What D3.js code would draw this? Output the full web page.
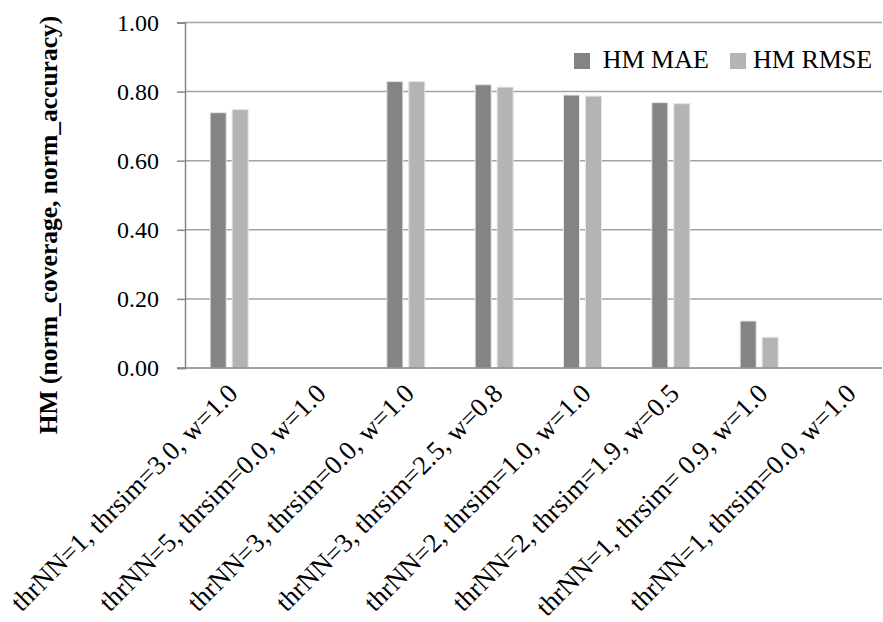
<!DOCTYPE html>
<html>
<head>
<meta charset="utf-8">
<script src="https://d3js.org/d3.v7.min.js"></script>
<style>
body { margin: 0; background: #fff; }
svg text { font-family: "Liberation Serif", "Times New Roman", Times, "DejaVu Serif", serif; fill: #000; }
</style>
</head>
<body>
<div id="chart"></div>
<script>
var categories = ["thrNN=1, thrsim=3.0, w=1.0", "thrNN=5, thrsim=0.0, w=1.0", "thrNN=3, thrsim=0.0, w=1.0",
  "thrNN=3, thrsim=2.5, w=0.8", "thrNN=2, thrsim=1.0, w=1.0", "thrNN=2, thrsim=1.9, w=0.5",
  "thrNN=1, thrsim= 0.9, w=1.0", "thrNN=1, thrsim=0.0, w=1.0"];
var seriesNames = ["HM MAE", "HM RMSE"];
var hmMAE = [0.739, 0, 0.829, 0.820, 0.790, 0.768, 0.136, 0];
var hmRMSE = [0.748, 0, 0.829, 0.813, 0.787, 0.765, 0.089, 0];
var yTicks = [0, 0.2, 0.4, 0.6, 0.8, 1.0];

var width = 883;
var height = 622;
var plotLeft = 185, plotRight = 882, plotTop = 22.5, plotBottom = 368;
var serif = '"Liberation Serif", "Times New Roman", Times, "DejaVu Serif", serif';

var colors = ["#848484", "#b4b4b4"];

var svg = d3.select("#chart").append("svg")
  .attr("width", width)
  .attr("height", height)
  .attr("font-family", serif);

// band for each category (the chart is clipped at the right edge)
var x0 = d3.scaleBand()
  .domain(categories)
  .range([plotLeft, plotLeft + 8 * 88.33])
  .paddingInner(0)
  .paddingOuter(0);

var x1 = d3.scaleBand()
  .domain(seriesNames)
  .range([x0.bandwidth() / 2 - 19, x0.bandwidth() / 2 + 19])
  .paddingInner(0.27);

var y = d3.scaleLinear()
  .domain([0, 1])
  .range([plotBottom, plotTop]);

/* gridlines */
svg.append("g")
  .selectAll("line")
  .data(yTicks.slice(1))
  .enter().append("line")
  .attr("x1", plotLeft)
  .attr("x2", plotRight)
  .attr("y1", d => y(d))
  .attr("y2", d => y(d))
  .style("stroke", "#a3a3a3")
  .style("stroke-width", 1.5);

/* bars */
var rows = categories.map((c, i) => ({cat: c, values: [hmMAE[i], hmRMSE[i]]}));

svg.append("g")
  .selectAll("g")
  .data(rows)
  .enter().append("g")
  .attr("transform", d => `translate(${x0(d.cat)},0)`)
  .selectAll("rect")
  .data(d => d.values.map((v, j) => ({name: seriesNames[j], v: v, j: j})).filter(d => d.v > 0))
  .enter().append("rect")
  .attr("x", d => x1(d.name))
  .attr("width", x1.bandwidth())
  .attr("y", d => y(d.v))
  .attr("height", d => y(0) - y(d.v))
  .style("fill", d => colors[d.j])
  .style("stroke", "#e6e6e6")
  .style("stroke-width", 1);

/* y axis */
var yAxis = d3.axisLeft(y)
  .tickValues(yTicks)
  .tickFormat(d3.format(".2f"))
  .tickSize(8)
  .tickPadding(18);

var ya = svg.append("g")
  .attr("transform", `translate(${plotLeft},0)`)
  .call(yAxis)
  .attr("font-family", serif)
  .attr("font-size", 24);
ya.select(".domain").style("stroke", "#868686").style("stroke-width", 1.5);
ya.selectAll(".tick line").style("stroke", "#868686").style("stroke-width", 1.5);

/* x axis line */
svg.append("line")
  .attr("x1", plotLeft - 8)
  .attr("x2", plotRight)
  .attr("y1", y(0))
  .attr("y2", y(0))
  .style("stroke", "#868686")
  .style("stroke-width", 1.5);

/* category labels */
var catLabels = svg.append("g")
  .selectAll("text")
  .data(categories)
  .enter().append("text")
  .attr("transform", d => `translate(${x0(d) + x0.bandwidth() / 2 + 10},${395}) rotate(-45)`)
  .attr("text-anchor", "end")
  .style("font-size", "26px")
  .text(d => d);

// size the labels so the first one is as long as in the picture
var len = catLabels.node().getComputedTextLength();
if (len > 0) catLabels.style("font-size", (26 * 308 / len) + "px");

/* y title */
svg.append("text")
  .attr("transform", "translate(57,225) rotate(-90)")
  .attr("text-anchor", "middle")
  .style("font-size", "25.5px")
  .style("font-weight", "bold")
  .text("HM (norm_coverage, norm_accuracy)");

/* legend */
var legendX = [574, 730];
var leg = svg.append("g")
  .selectAll("g")
  .data(seriesNames)
  .enter().append("g")
  .attr("transform", (d, i) => `translate(${legendX[i]},53)`);
leg.append("rect")
  .attr("width", 16)
  .attr("height", 16)
  .style("fill", (d, i) => colors[i]);
leg.append("text")
  .attr("x", (d, i) => i == 0 ? 28.7 : 23)
  .attr("y", 15)
  .style("font-size", "26px")
  .text(d => d);
</script>
</body>
</html>
